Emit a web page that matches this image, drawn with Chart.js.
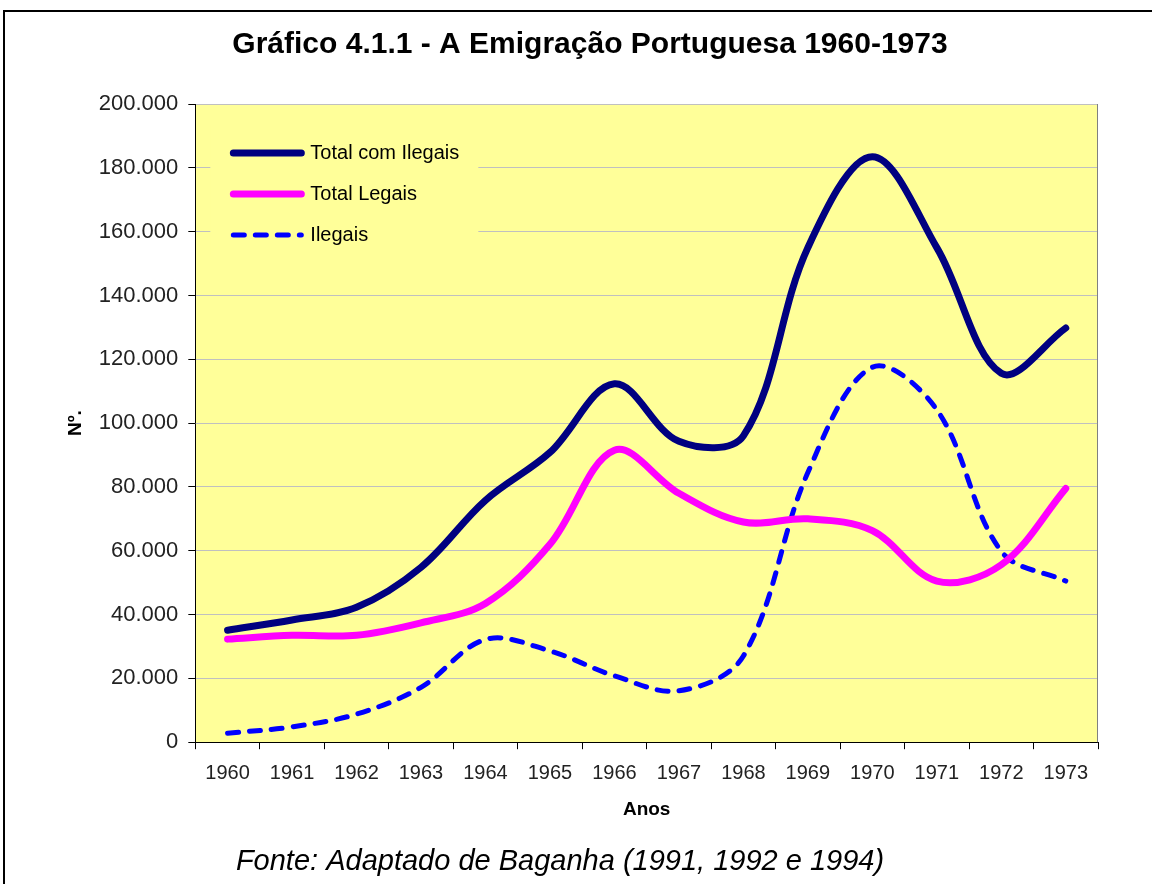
<!DOCTYPE html>
<html>
<head>
<meta charset="utf-8">
<title>Gráfico 4.1.1 - A Emigração Portuguesa 1960-1973</title>
<script src="https://cdn.jsdelivr.net/npm/chart.js@4"></script>
<style>
  html, body { margin: 0; padding: 0; background: #fff; }
</style>
</head>
<body>
<canvas id="myChart" width="1152" height="884"></canvas>
<script>
// valores
const anos = ['1960','1961','1962','1963','1964','1965','1966','1967','1968','1969','1970','1971','1972','1973'];
const totalComIlegais = [35100, 38300, 42300, 54800, 75800, 90800, 112300, 94300, 96000, 155000, 183500, 155000, 115600, 129800];
const totalLegais     = [32300, 33500, 33500, 37400, 43500, 62000, 91500, 78000, 69000, 70000, 66300, 50500, 55600, 79500];
const ilegais         = [2800, 4800, 8800, 17200, 32200, 28600, 20800, 16100, 27000, 84500, 117500, 104200, 59800, 50500];
const yMin = 0, yMax = 200000, yStep = 20000;

const titulo = 'Gráfico 4.1.1 - A Emigração Portuguesa 1960-1973';
const fonte = 'Fonte: Adaptado de Baganha (1991, 1992 e 1994)';

const FAM = "'Liberation Sans', Arial, sans-serif";
Chart.defaults.font.family = FAM;
Chart.defaults.color = '#000';

let fmt = function(v){
  return String(v).replace(/\B(?=(\d{3})+(?!\d))/g, '.');
}

// fundo amarelo, moldura, legenda, título e fonte
const decor = {
  id: 'decor',
  beforeDraw(chart) {
    const {ctx, chartArea: a} = chart;
    ctx.save();
    ctx.fillStyle = '#fff';
    ctx.fillRect(0, 0, chart.width, chart.height);
    ctx.fillStyle = '#FFFF99';
    ctx.fillRect(a.left, a.top, a.right - a.left, a.bottom - a.top);
    ctx.strokeStyle = '#000';
    ctx.lineWidth = 2;
    ctx.beginPath();
    ctx.moveTo(4, chart.height);
    ctx.lineTo(4, 11);
    ctx.lineTo(chart.width, 11);
    ctx.stroke();
    ctx.restore();
  },
  beforeDatasetsDraw(chart) {
    const {ctx, chartArea: a} = chart;
    ctx.save();
    ctx.fillStyle = '#FFFF99';
    ctx.fillRect(a.left + 15, a.top + 21, 268, 130);
    chart.data.datasets.forEach(function(ds, i){
      let y = a.top + 49 + i * 41;
      ctx.strokeStyle = ds.borderColor;
      ctx.lineWidth = ds.borderWidth;
      ctx.lineCap = 'round';
      ctx.setLineDash(ds.borderDash || []);
      ctx.beginPath();
      ctx.moveTo(a.left + 38, y);
      ctx.lineTo(a.left + 106, y);
      ctx.stroke();
      ctx.setLineDash([]);
      ctx.fillStyle = '#000';
      ctx.font = '20px ' + FAM;
      ctx.textBaseline = 'middle';
      ctx.fillText(ds.label, a.left + 115, y);
    });
    ctx.restore();
  },
  afterDraw(chart) {
    const {ctx, chartArea: a} = chart;
    ctx.save();
    ctx.strokeStyle = '#808080';
    ctx.lineWidth = 1;
    ctx.beginPath();
    ctx.moveTo(a.right - 0.5, a.top);
    ctx.lineTo(a.right - 0.5, a.bottom);
    ctx.stroke();
    ctx.fillStyle = '#000';
    ctx.textAlign = 'center';
    ctx.textBaseline = 'middle';
    ctx.font = 'bold 30px ' + FAM;
    ctx.fillText(titulo, 590, 45);
    ctx.font = 'italic 29px ' + FAM;
    ctx.fillText(fonte, 560, 862);
    ctx.restore();
  }
};

new Chart(document.getElementById('myChart'), {
  type: 'line',
  data: {
    labels: anos,
    datasets: [
      {
        label: 'Total com Ilegais',
        data: totalComIlegais,
        borderColor: '#000080',
        borderWidth: 7,
        tension: 0.35
      },
      {
        label: 'Total Legais',
        data: totalLegais,
        borderColor: '#FF00FF',
        borderWidth: 7,
        tension: 0.35
      },
      {
        label: 'Ilegais',
        data: ilegais,
        borderColor: '#0000FF',
        borderWidth: 5,
        borderDash: [11, 11],
        borderCapStyle: 'round',
        tension: 0.35
      }
    ]
  },
  options: {
    responsive: false,
    animation: false,
    layout: { padding: { left: 34, right: 54, top: 104, bottom: 59 } },
    elements: {
      point: { radius: 0, hoverRadius: 0 },
      line: { borderJoinStyle: 'round', borderCapStyle: 'round' }
    },
    plugins: {
      legend: { display: false },
      tooltip: { enabled: false },
      title: { display: false }
    },
    scales: {
      x: {
        offset: true,
        grid: {
          offset: true,
          drawOnChartArea: false,
          tickLength: 7,
          tickColor: '#000'
        },
        border: { color: '#000', width: 1 },
        ticks: { color: '#222', font: { size: 20 }, padding: 12, maxRotation: 0 },
        title: {
          display: true,
          text: 'Anos',
          font: { size: 19, weight: 'bold' },
          padding: { top: 1, bottom: 4 }
        }
      },
      y: {
        min: yMin,
        max: yMax,
        grid: {
          color: '#C0C0C0',
          tickLength: 7,
          tickColor: '#000'
        },
        border: { color: '#000', width: 1 },
        ticks: {
          stepSize: yStep,
          color: '#222',
          font: { size: 22 },
          padding: 10,
          callback: function(v){ return fmt(v); }
        },
        title: {
          display: true,
          text: 'Nº.',
          font: { size: 19, weight: 'bold' },
          padding: { top: 30, bottom: 2 }
        }
      }
    }
  },
  plugins: [decor]
});
</script>
</body>
</html>
